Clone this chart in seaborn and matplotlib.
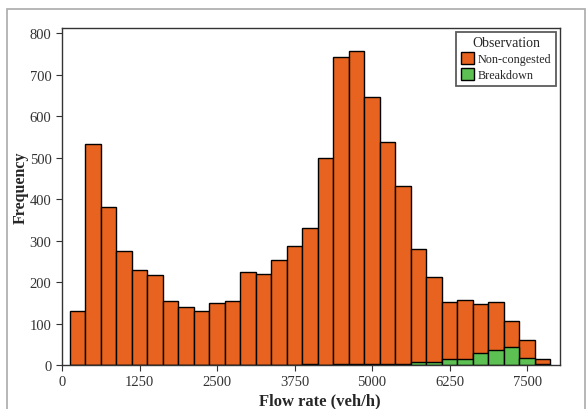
import numpy as np
import pandas as pd
import matplotlib
matplotlib.use("Agg")
import matplotlib.pyplot as plt
from matplotlib.patches import Patch, Rectangle
import seaborn as sns

# bin centres (veh/h), bins are 250 wide
flow_bins = [250, 500, 750, 1000, 1250, 1500, 1750, 2000, 2250, 2500, 2750,
             3000, 3250, 3500, 3750, 4000, 4250, 4500, 4750, 5000, 5250, 5500,
             5750, 6000, 6250, 6500, 6750, 7000, 7250, 7500, 7750]
non_congested = [131, 532, 382, 276, 230, 217, 155, 140, 131, 149, 155,
                 225, 219, 253, 288, 331, 499, 742, 758, 647, 538, 431,
                 279, 213, 153, 158, 147, 151, 107, 60, 15]
breakdown = [0, 0, 0, 0, 0, 0, 0, 0, 0, 0, 0,
             0, 0, 0, 0, 2, 1, 2, 2, 2, 3, 3,
             8, 7, 15, 14, 28, 36, 43, 17, 3]
x_ticks = [0, 1250, 2500, 3750, 5000, 6250, 7500]
y_ticks = [0, 100, 200, 300, 400, 500, 600, 700, 800]

orange = "#E8631F"
green = "#5CC152"

sns.set_style("ticks")
plt.rcParams['font.family'] = ['Liberation Serif', 'DejaVu Serif']

df = pd.DataFrame({"flow": flow_bins, "nc": non_congested, "bd": breakdown})
edges = [c - 125 for c in flow_bins] + [flow_bins[-1] + 125]

fig = plt.figure(figsize=(5.88, 4.10), dpi=100)
ax = fig.add_axes([62 / 588, 1 - 366 / 410, (560 - 62) / 588, (366 - 29) / 410])

# orange drawn first, green in front of it
sns.histplot(data=df, x="flow", weights="nc", bins=edges, color=orange,
             alpha=1, edgecolor="black", linewidth=1, ax=ax)
sns.histplot(data=df, x="flow", weights="bd", bins=edges, color=green,
             alpha=1, edgecolor="black", linewidth=1, ax=ax)

ax.set_xlim(0, 8030)
ax.set_ylim(0, 813)
ax.set_xticks(x_ticks)
ax.set_yticks(y_ticks)
ax.tick_params(labelsize=10.5, length=4, width=0.8, colors="#333333")
for s in ax.spines.values():
    s.set_visible(True)
    s.set_color("#333333")
    s.set_linewidth(1.0)

ax.set_xlabel("Flow rate (veh/h)", fontsize=12, fontweight="bold")
ax.set_ylabel("Frequency", fontsize=11.5, fontweight="bold")
ax.xaxis.set_label_coords(0.518, -0.08)
ax.yaxis.set_label_coords(-0.066, 0.53)

handles = [Patch(facecolor=orange, edgecolor="black", label="Non-congested"),
           Patch(facecolor=green, edgecolor="black", label="Breakdown")]
leg = ax.legend(handles=handles, title="Observation", loc="upper right",
                fontsize=8.7, title_fontsize=10, frameon=True, fancybox=False,
                borderaxespad=0.3, handlelength=1.1, handleheight=1.1,
                handletextpad=0.3, labelspacing=0.25, borderpad=0.4)
leg.get_frame().set_edgecolor("#333333")
leg.get_frame().set_linewidth(1.3)

# light grey outer frame
fig.patches.append(Rectangle((7 / 588, -0.05), (585 - 7) / 588, 1.05 - 10 / 410,
                             transform=fig.transFigure, fill=False,
                             edgecolor="#aaaaaa", linewidth=1.2))

fig.savefig("out.png", dpi=100)
